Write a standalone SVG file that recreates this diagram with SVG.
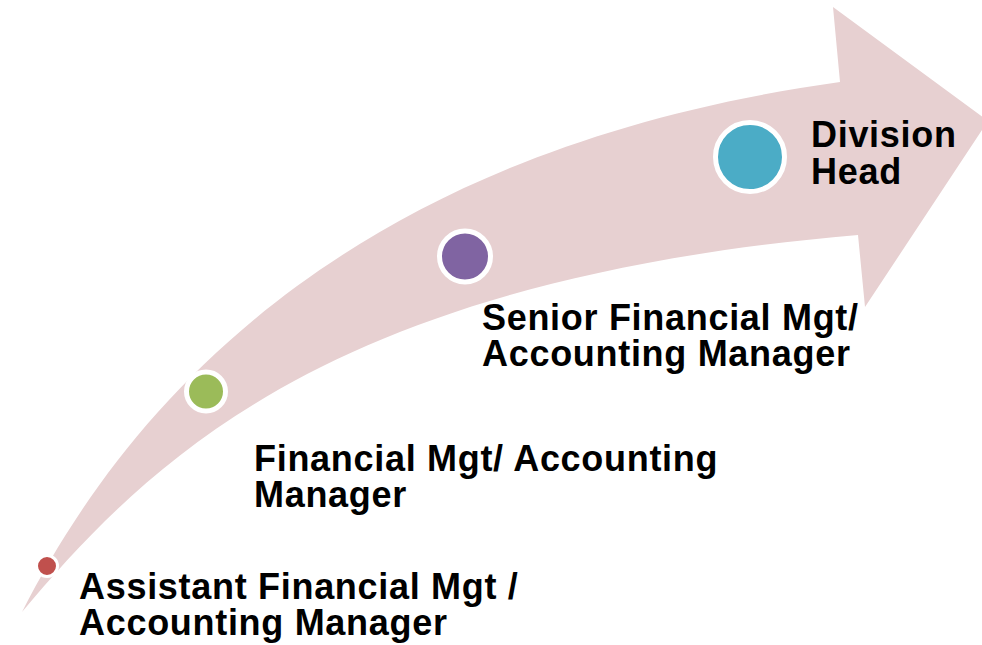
<svg xmlns="http://www.w3.org/2000/svg" width="982" height="645" viewBox="0 0 982 645">
<style>
.lbl{font-family:"Liberation Sans",Arial,sans-serif;font-weight:bold;font-size:36px;letter-spacing:0.7px;fill:#000}
.dot{stroke:#fff}
</style>
<rect width="982" height="645" fill="#fff"/>
<g id="arrow">
<path d="M22,612 C130,400 350,150 840,82 L833,7 L988,121 L865,307 L858,235 C330,280 150,460 22,612 Z" fill="#E7D0D1"/>
</g>
<g id="node-assistant">
<circle class="dot" cx="47" cy="566" r="10.5" fill="#C0504D" stroke-width="3"/>
<text class="lbl"><tspan x="79" y="599">Assistant Financial Mgt /</tspan><tspan x="79" y="635">Accounting Manager</tspan></text>
</g>
<g id="node-financial">
<circle class="dot" cx="206" cy="391.5" r="19.5" fill="#9BBB59" stroke-width="5"/>
<text class="lbl"><tspan x="254" y="470.5">Financial Mgt/ Accounting</tspan><tspan x="254" y="507">Manager</tspan></text>
</g>
<g id="node-senior">
<circle class="dot" cx="465" cy="256.5" r="25.5" fill="#8064A2" stroke-width="5"/>
<text class="lbl"><tspan x="482" y="329.5">Senior Financial Mgt/</tspan><tspan x="482" y="366">Accounting Manager</tspan></text>
</g>
<g id="node-division">
<circle class="dot" cx="750" cy="157" r="34.5" fill="#4BACC6" stroke-width="5"/>
<text class="lbl"><tspan x="811" y="146.5">Division</tspan><tspan x="811" y="183.5">Head</tspan></text>
</g>
<g id="connectors"></g>
</svg>
